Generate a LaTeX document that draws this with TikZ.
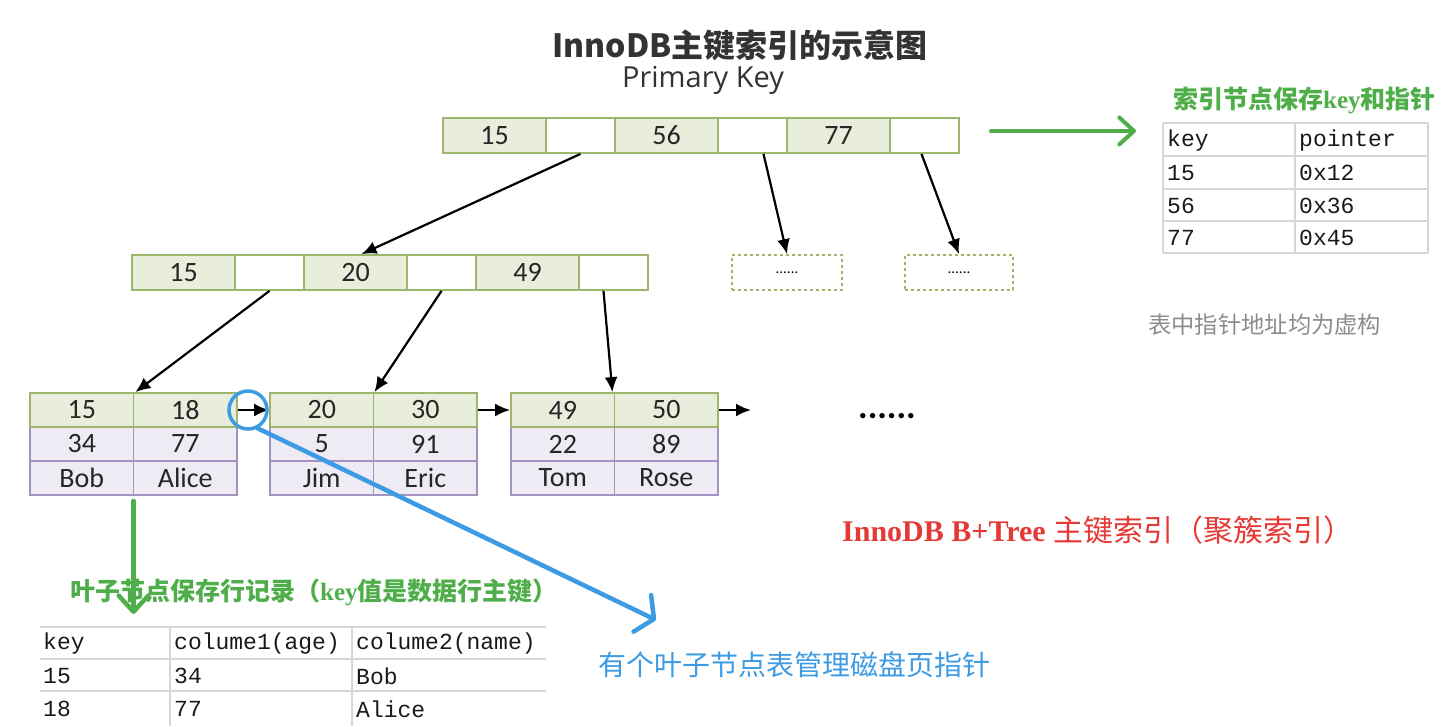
\documentclass[tikz,border=0pt]{standalone}
\usepackage{fontspec}
\setmainfont{Liberation Serif}
\newfontfamily\cjk{Noto Sans CJK SC}
\newfontfamily\segoe{Carlito}
\newfontfamily\osans{Open Sans}
\newfontfamily\mono{Liberation Mono}
\usetikzlibrary{arrows.meta}
\definecolor{gfill}{HTML}{E9EEDC}
\definecolor{gline}{HTML}{9DB66B}
\definecolor{pfill}{HTML}{EEEBF4}
\definecolor{pline}{HTML}{A193C2}
\definecolor{agreen}{HTML}{4FAE4A}
\definecolor{ablue}{HTML}{3C9BE3}
\definecolor{ared}{HTML}{E53935}
\definecolor{tgray}{HTML}{D6D6D6}
\definecolor{titlec}{HTML}{333333}
\tikzset{
  cellbase/.style={minimum height=35pt, inner sep=0pt, font=\segoe\fontsize{28}{28}\selectfont, text=black!85, line width=1.8pt},
  keycell/.style={cellbase, draw=gline, fill=gfill, minimum width=103pt},
  ptrcell/.style={cellbase, draw=gline, fill=white, minimum width=69pt},
  lgcell/.style={cellbase, draw=gline, fill=gfill, minimum width=103.5pt, minimum height=34pt},
  lpcell/.style={cellbase, draw=pline, fill=pfill, minimum width=103.5pt, minimum height=34pt},
  dashbox/.style={draw=gline, dashed, line width=1.8pt, minimum height=35pt, inner sep=0pt, font=\segoe\fontsize{15}{15}\selectfont},
  treearrow/.style={-{Latex[length=15pt,width=13pt]}, line width=2.2pt, black},
  tabtxt/.style={anchor=west, inner sep=0pt, font=\mono\fontsize{23}{23}\selectfont, text=black!90},
  tabline/.style={tgray, line width=1.6pt},
  penarrow/.style={line width=4.5pt, line cap=round},
}
\begin{document}
\begin{tikzpicture}[x=1pt,y=-1pt]
\useasboundingbox (0,0) rectangle (1454,726);
% titles
\node[font=\cjk\bfseries\fontsize{32}{32}\selectfont, text=titlec] (title) at (740,45) {InnoDB主键索引的示意图};
\node[font=\osans\fontsize{29}{29}\selectfont, text=titlec] (pk) at (703,80) {Primary Key};
% root
\node[keycell] (r1) at (494.5,135.5) {15};
\node[ptrcell] (r2) at (580.5,135.5) {};
\node[keycell] (r3) at (666.5,135.5) {56};
\node[ptrcell] (r4) at (752.5,135.5) {};
\node[keycell] (r5) at (838.5,135.5) {77};
\node[ptrcell] (r6) at (924.5,135.5) {};
% level 2
\node[keycell] (m1) at (183.5,272.5) {15};
\node[ptrcell] (m2) at (269.5,272.5) {};
\node[keycell] (m3) at (355.5,272.5) {20};
\node[ptrcell] (m4) at (441.5,272.5) {};
\node[keycell] (m5) at (527.5,272.5) {49};
\node[ptrcell] (m6) at (613.5,272.5) {};
\node[dashbox, minimum width=110pt] (d1) at (787,272.5) {......};
\node[dashbox, minimum width=108pt] (d2) at (959,272.5) {......};
% leaves
\foreach \n/\cx/\a/\b/\c in {aa/81.75/15/34/Bob, ab/185.25/18/77/Alice, ba/321.75/20/5/Jim, bb/425.25/30/91/Eric, ca/562.75/49/22/Tom, cb/666.25/50/89/Rose}{
  \node[lpcell] (\n3) at (\cx,478) {\c};
  \node[lpcell] (\n2) at (\cx,444) {\b};
  \node[lgcell] (\n1) at (\cx,410) {\a};
}
\node[font=\segoe\bfseries\fontsize{36}{36}\selectfont] (dots) at (887,416) {......};
% tree arrows
\draw[treearrow] (r2.south) -- ([xshift=6pt]m3.north);
\draw[treearrow] ([xshift=11pt]r4.south) -- (d1.north);
\draw[treearrow] ([xshift=-3pt]r6.south) -- (d2.north);
\draw[treearrow] (m2.south) -- ([xshift=1pt]aa1.north east);
\draw[treearrow] (m4.south) -- (ba1.north east);
\draw[treearrow] ([xshift=-10pt]m6.south) -- ([xshift=-3pt]ca1.north east);
\coordinate (lend) at (751,410);
\draw[treearrow] (ab1.east) -- (ba1.west);
\draw[treearrow] (bb1.east) -- (ca1.west);
\draw[treearrow] (cb1.east) -- (lend);
% blue circle and arrow
\node[draw=ablue, line width=3.5pt, circle, minimum size=38pt, inner sep=0pt] (circ) at (248,410) {};
\coordinate (btip) at (656,620);
\draw[penarrow, ablue, -{Straight Barb[angle=115:24pt, round]}] (circ.-62) -- (btip);
% green arrows
\coordinate (gtop) at (133.5,501);
\coordinate (gtip) at (133.5,614);
\draw[penarrow, agreen, -{Straight Barb[angle=85:22pt, round]}] (gtop) -- (gtip);
\coordinate (gra) at (991,131);
\coordinate (grb) at (1136,131);
\draw[penarrow, agreen, line width=4pt, -{Straight Barb[angle=85:20pt, round]}] (gra) -- (grb);
% right table
\foreach \yy in {123,156,189,221,253} \draw[tabline] (1163,\yy) -- (1428,\yy);
\foreach \xx in {1163,1295,1428} \draw[tabline] (\xx,123) -- (\xx,253);
\node[tabtxt] (t11) at (1167,141) {key};
\node[tabtxt] (t12) at (1299,141) {pointer};
\node[tabtxt] (t21) at (1167,173) {15};
\node[tabtxt] (t22) at (1299,173) {0x12};
\node[tabtxt] (t31) at (1167,206) {56};
\node[tabtxt] (t32) at (1299,206) {0x36};
\node[tabtxt] (t41) at (1167,238) {77};
\node[tabtxt] (t42) at (1299,238) {0x45};
% bottom table
\foreach \yy in {627,659,691} \draw[tabline] (40,\yy) -- (546,\yy);
\foreach \xx in {170,352} \draw[tabline] (\xx,627) -- (\xx,726);
\node[tabtxt] (b11) at (43,644) {key};
\node[tabtxt] (b12) at (174,644) {colume1(age)};
\node[tabtxt] (b13) at (356,644) {colume2(name)};
\node[tabtxt] (b21) at (43,676) {15};
\node[tabtxt] (b22) at (174,676) {34};
\node[tabtxt] (b23) at (356,676) {Bob};
\node[tabtxt] (b31) at (43,709) {18};
\node[tabtxt] (b32) at (174,709) {77};
\node[tabtxt] (b33) at (356,709) {Alice};
% annotations
\node[anchor=west, inner sep=0pt, text=agreen, font=\cjk\bfseries\fontsize{25}{25}\selectfont] (lbl1) at (1173,100) {索引节点保存{\rmfamily key}和指针};
\node[anchor=west, inner sep=0pt, text=black!45, font=\cjk\fontsize{23.3}{23.3}\selectfont] (lbl2) at (1148,325) {表中指针地址均为虚构};
\node[anchor=west, inner sep=0pt, text=ared, font=\fontsize{30}{30}\selectfont] (lbl3) at (842,530) {{\bfseries InnoDB B+Tree }{\cjk 主键索引（聚簇索引）}};
\node[anchor=west, inner sep=0pt, text=agreen, font=\cjk\bfseries\fontsize{25}{25}\selectfont] (lbl4) at (70,592) {叶子节点保存行记录（{\rmfamily key}值是数据行主键）};
\node[anchor=west, inner sep=0pt, text=ablue, font=\cjk\fontsize{28}{28}\selectfont] (lbl5) at (598,665) {有个叶子节点表管理磁盘页指针};
\end{tikzpicture}
\end{document}
